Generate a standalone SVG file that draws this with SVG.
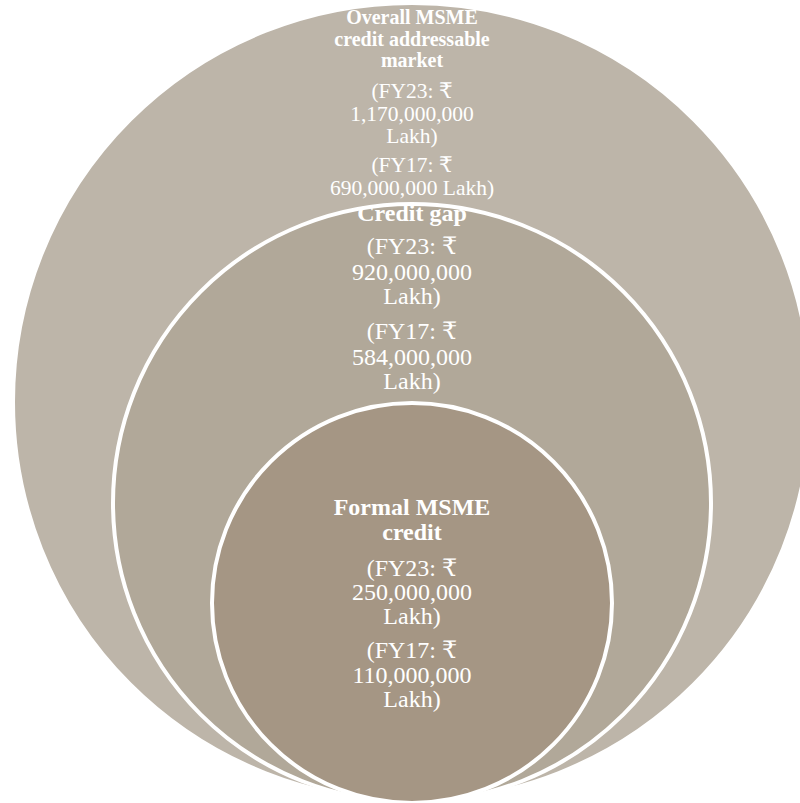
<svg xmlns="http://www.w3.org/2000/svg" width="800" height="803" viewBox="0 0 800 803">
<style>
.c{stroke:#ffffff;stroke-width:4}
.t{font-family:"Liberation Serif","DejaVu Serif",serif;fill:#ffffff;text-anchor:middle}
.b{font-weight:bold}
.s{font-size:21.5px}
.h{font-size:20px}
.m{font-size:24px}
</style>
<rect width="800" height="803" fill="#ffffff"/>
<g id="outer">
<circle class="c" cx="412" cy="402" r="399" fill="#bdb5a9"/>
<text class="t b h" x="412" y="24">Overall MSME</text>
<text class="t b h" x="412" y="45.5">credit addressable</text>
<text class="t b h" x="412" y="66.5">market</text>
<text class="t s" x="412" y="98">(FY23: ₹</text>
<text class="t s" x="412" y="120.5">1,170,000,000</text>
<text class="t s" x="412" y="142.5">Lakh)</text>
<text class="t s" x="412" y="172">(FY17: ₹</text>
<text class="t s" x="412" y="194.5">690,000,000 Lakh)</text>
</g>
<g id="middle">
<circle class="c" cx="412" cy="503" r="299" fill="#b1a899"/>
<text class="t b m" x="412" y="221">Credit gap</text>
<text class="t m" x="412" y="254">(FY23: ₹</text>
<text class="t m" x="412" y="280">920,000,000</text>
<text class="t m" x="412" y="304">Lakh)</text>
<text class="t m" x="412" y="339">(FY17: ₹</text>
<text class="t m" x="412" y="365">584,000,000</text>
<text class="t m" x="412" y="389">Lakh)</text>
</g>
<g id="inner">
<circle class="c" cx="412" cy="603" r="200" fill="#a59684"/>
<text class="t b m" x="412" y="515">Formal MSME</text>
<text class="t b m" x="412" y="540">credit</text>
<text class="t m" x="412" y="576">(FY23: ₹</text>
<text class="t m" x="412" y="600">250,000,000</text>
<text class="t m" x="412" y="624">Lakh)</text>
<text class="t m" x="412" y="658">(FY17: ₹</text>
<text class="t m" x="412" y="683">110,000,000</text>
<text class="t m" x="412" y="707">Lakh)</text>
</g>
<g id="connectors"></g>
</svg>
